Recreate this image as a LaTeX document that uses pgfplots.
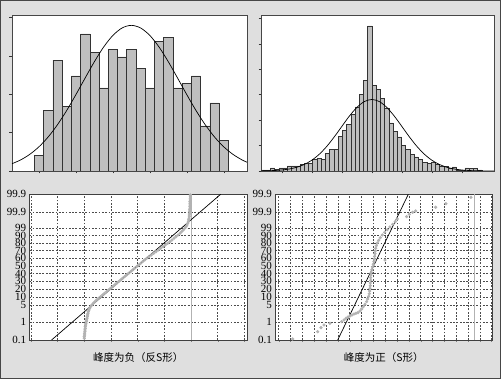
\documentclass[border=0pt]{standalone}
\usepackage{fontspec}
\setmainfont{Liberation Serif}
\newfontfamily\cjk{Noto Sans CJK SC}
\usepackage{pgfplots}
\pgfplotsset{compat=1.18}
\begin{document}
\begin{tikzpicture}
\useasboundingbox (0,0) rectangle (501pt,379pt);
\fill[gray!25] (0,0) rectangle (501pt,379pt);
\draw[gray!55!black, line width=1pt] (0.5pt,0.5pt) rectangle (500.5pt,378.5pt);
\pgfplotsset{
  hist/.style={scale only axis, anchor=south west,
    axis background/.style={fill=white},
    axis line style={gray!55!black, line width=0.5pt},
    tick pos=left, tick align=outside, major tick length=2.5pt,
    tick style={gray!40!black, line width=0.4pt},
    xticklabels={}, yticklabels={}, ymin=0},
  prob/.style={scale only axis, anchor=south west,
    axis background/.style={fill=white},
    axis line style={black!75, line width=0.6pt},
    ymin=0, ymax=437,
    ytick={0,53,104,128,153,176,199,222,245,268,291,313,335,383,437},
    yticklabels={0.1,1,5,10,20,30,40,50,60,70,80,90,99,99.9,99.9},
    grid=major,
    grid style={black!70, dash pattern=on 1.8pt off 1.5pt, line width=0.4pt},
    tick pos=left, tick align=outside, major tick length=2pt,
    ytick style={draw=none},
    xticklabels={},
    yticklabel style={font=\fontsize{11}{11}\selectfont, inner sep=1pt},
    every axis x label/.style={at={(axis description cs:0.5,0)}, anchor=center, yshift=-18pt, font={\cjk\fontsize{10.5}{12}\selectfont}}},
  pts/.style={only marks, mark=*, mark size=1.4pt, mark options={draw=gray!60, fill=gray!60}}
}

% top-left histogram (negative kurtosis)
\begin{axis}[hist, at={(12pt,208pt)}, width=235pt, height=156pt,
  xmin=-0.73, xmax=5.63, ymax=4.07, xtick={0,1,2,3,4,5}, ytick={0,1,2,3,4}]
\addplot[ybar, bar width=0.25, fill=gray!50, draw=black!80, line width=0.5pt] coordinates {
(0,0.41) (0.25,1.59) (0.5,2.89) (0.75,1.68) (1,2.48) (1.25,3.58) (1.5,3.09)
(1.75,2.17) (2,3.17) (2.25,2.98) (2.5,3.17) (2.75,2.67) (3,2.17) (3.25,3.38)
(3.5,3.48) (3.75,2.17) (4,2.29) (4.25,2.48) (4.5,1.18) (4.75,1.78) (5,0.79)};
\addplot[black, line width=0.7pt, smooth] coordinates {
(-0.73,0.190) (-0.5,0.287) (-0.25,0.434) (0,0.632) (0.25,0.889) (0.5,1.206)
(0.75,1.578) (1,1.993) (1.25,2.427) (1.5,2.852) (1.75,3.234) (2,3.537)
(2.25,3.732) (2.5,3.800) (2.75,3.732) (3,3.537) (3.25,3.234) (3.5,2.852)
(3.75,2.427) (4,1.993) (4.25,1.578) (4.5,1.206) (4.75,0.889) (5,0.632)
(5.25,0.434) (5.5,0.287) (5.63,0.229)};
\end{axis}

% top-right histogram (positive kurtosis)
\begin{axis}[hist, at={(261pt,208pt)}, width=233pt, height=156pt,
  xmin=-0.74, xmax=54.38, ymax=6.13,
  xtick={4.22,11.31,18.40,25.49,32.57,39.66,46.75}, ytick={0,1,2,3,4,5,6}]
\addplot[ybar, bar width=1, fill=gray!50, draw=black!80, line width=0.5pt] coordinates {
(0,0.04) (1,0.04) (2,0.12) (3,0.05) (4,0.12) (5,0.12) (6,0.20) (7,0.20)
(8,0.20) (9,0.26) (10,0.31) (11,0.31) (12,0.45) (13,0.49) (14,0.46) (15,0.68)
(16,0.85) (17,0.85) (18,1.35) (19,1.59) (20,1.84) (21,2.23) (22,2.52) (23,3.01)
(24,3.57) (25,5.70) (26,3.36) (27,3.22) (28,2.85) (29,2.48) (30,1.89) (31,1.56)
(32,1.34) (33,1.00) (34,0.84) (35,0.64) (36,0.55) (37,0.47) (38,0.35) (39,0.29)
(40,0.33) (41,0.26) (42,0.20) (43,0.18) (44,0.12) (45,0.16) (46,0.04) (47,0.03)
(48,0.12) (49,0.09) (50,0.09) (51,0.04)};
\addplot[black, line width=0.7pt, smooth] coordinates {
(-0.74,0.004) (0.68,0.009) (2.45,0.019) (4.22,0.040) (5.99,0.080) (7.76,0.148)
(9.53,0.259) (11.31,0.427) (13.08,0.664) (14.85,0.973) (16.62,1.346)
(18.39,1.754) (20.16,2.156) (21.94,2.498) (23.71,2.728) (25.48,2.810)
(27.25,2.728) (29.02,2.498) (30.80,2.156) (32.57,1.754) (34.34,1.346)
(36.11,0.973) (37.88,0.664) (39.65,0.427) (41.43,0.259) (43.20,0.148)
(44.97,0.080) (46.74,0.040) (48.51,0.019) (50.28,0.009) (52.06,0.004) (54.38,0.002)};
\end{axis}

% bottom-left probability plot
\begin{axis}[prob, at={(29.3pt,39pt)}, width=218pt, height=145.7pt,
  xmin=-4.06, xmax=4.11, xtick={-4,-3,-2,-1,0,1,2,3,4},
  xlabel={峰度为负（反S形）}]
\addplot[gray!60, line width=0.6pt] coordinates {(2,0) (2,437)};
\addplot[pts] coordinates {
(-2.000,5) (-2.000,10) (-1.988,15) (-1.988,20) (-1.975,25) (-1.975,30)
(-1.963,35) (-1.963,40) (-1.950,45) (-1.938,50) (-1.925,55) (-1.913,60)
(-1.900,65) (-1.888,70) (-1.875,75) (-1.863,80) (-1.850,85) (-1.825,90)
(-1.800,95) (-1.763,100) (-1.713,105) (-1.663,110) (-1.600,115) (-1.538,120)
(-1.463,125) (-1.388,130) (-1.313,135) (-1.238,140) (-1.163,145) (-1.088,150)
(-1.013,155) (-0.938,160) (-0.863,165) (-0.788,170) (-0.713,175) (-0.638,180)
(-0.563,185) (-0.488,190) (-0.413,195) (-0.338,200) (-0.263,205) (-0.188,210)
(-0.113,215) (-0.038,220) (0.038,225) (0.113,230) (0.188,235) (0.263,240)
(0.338,245) (0.425,250) (0.513,255) (0.600,260) (0.688,265) (0.775,270)
(0.863,275) (0.950,280) (1.038,285) (1.125,290) (1.213,295) (1.288,300)
(1.363,305) (1.438,310) (1.513,315) (1.588,320) (1.650,325) (1.713,330)
(1.763,335) (1.813,340) (1.850,345) (1.875,350) (1.900,355) (1.913,360)
(1.925,365) (1.938,370) (1.938,375) (1.950,380) (1.950,385) (1.950,390)
(1.963,395) (1.963,400) (1.963,405) (1.963,410) (1.963,415) (1.975,420)
(1.975,425) (1.975,430) (1.975,435)};
\addplot[black, line width=0.7pt] coordinates {(-3.225,0) (3.11,437)};
\end{axis}

% bottom-right probability plot
\begin{axis}[prob, at={(275pt,39pt)}, width=217.3pt, height=145.7pt,
  xmin=-8.31, xmax=10.06, xtick={-8,-7,...,10},
  xlabel={峰度为正（S形）}]
\addplot[gray!60, line width=0.6pt] coordinates {(8.5,0) (8.5,437)};
\addplot[pts] coordinates {
(-6.817,3) (-4.704,25) (-4.423,37) (-4.169,45) (-3.662,50) (-2.676,55)
(-2.479,60) (-2.310,65) (-2.141,69) (-1.972,72) (-1.803,75) (-1.634,78)
(-1.465,80) (-1.296,82) (-1.127,87) (-0.986,93) (-0.845,100) (-0.704,107)
(-0.563,115) (-0.479,123) (-0.394,131) (-0.338,139) (-0.310,147) (-0.282,155)
(-0.254,163) (-0.254,171) (-0.225,179) (-0.225,187) (-0.197,195) (-0.169,203)
(-0.113,211) (-0.056,219) (0.000,227) (0.056,235) (0.085,243) (0.113,251)
(0.141,259) (0.169,267) (0.197,275) (0.254,283) (0.338,291) (0.451,299)
(0.592,307) (0.761,315) (0.958,323) (1.183,331) (1.408,339) (1.634,347)
(1.859,355) (2.028,363) (2.817,370) (3.042,377) (3.324,383) (3.577,387)
(5.268,398) (6.141,409) (8.254,428) (0.986,240)};
\addplot[black, line width=0.7pt] coordinates {(-3.01,0) (2.96,437)};
\end{axis}
\end{tikzpicture}
\end{document}
